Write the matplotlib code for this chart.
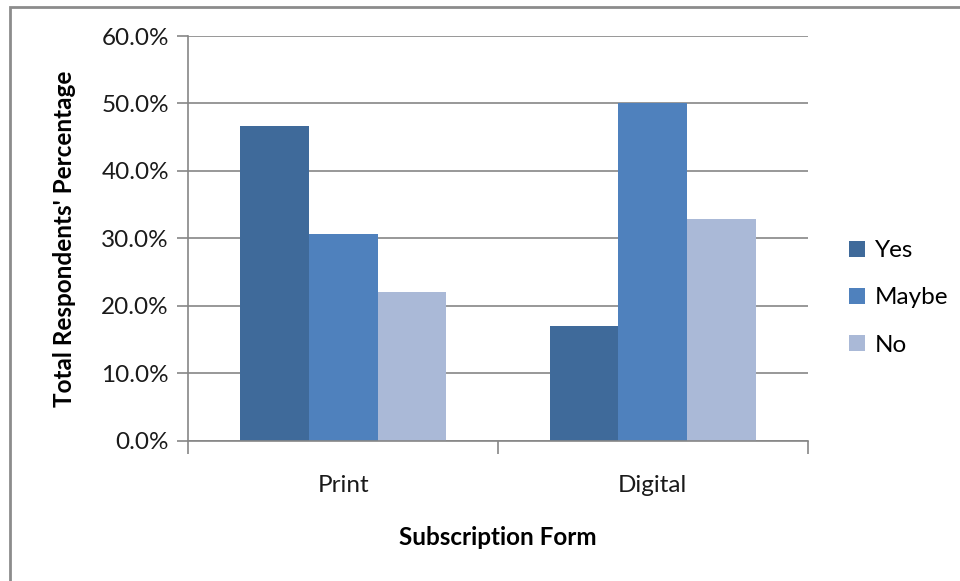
import numpy as np
import matplotlib.pyplot as plt
from matplotlib.patches import Rectangle
from matplotlib.ticker import PercentFormatter

# survey results, percentage of respondents per answer
forms = ['Print', 'Digital']
answers = ['Yes', 'Maybe', 'No']
yes = [46.7, 17.0]
maybe = [30.7, 50.0]
no = [22.1, 32.8]
yticks = [0, 10, 20, 30, 40, 50, 60]

colors = ['#3F6A9A', '#4F81BD', '#AAB9D7']

plt.rcParams['font.family'] = ['Lato', 'DejaVu Sans']
fs = 17.5

fig = plt.figure(figsize=(9.6, 5.81), dpi=100)
W, H = 960, 581
ax = fig.add_axes([188.3 / W, 1 - 440.7 / H, (807.7 - 188.3) / W, (440.7 - 36) / H])

# outer chart border
fig.patches.append(Rectangle((10 / W, -0.05), 1.1, 1 - 7 / H + 0.05,
                             transform=fig.transFigure, fill=False,
                             edgecolor='#8C8C8C', linewidth=2, zorder=0))

x = np.arange(len(forms))
bw = 1 / 4.5  # gap width 150%
for i, (vals, name) in enumerate(zip([yes, maybe, no], answers)):
    ax.bar(x + (i - 1) * bw, vals, width=bw, color=colors[i], label=name, zorder=3)

ax.set_xlim(-0.5, 1.5)
ax.set_ylim(0, 60)
ax.set_yticks(yticks)
ax.yaxis.set_major_formatter(PercentFormatter(decimals=1))
ax.set_xticks(x)
ax.set_xticklabels(forms)
ax.set_xticks([-0.5, 0.5, 1.5], minor=True)
ax.tick_params(axis='x', which='major', length=0, pad=24.5, labelsize=fs, colors='#1a1a1a')
ax.tick_params(axis='x', which='minor', length=9, width=1.2, color='#868686', direction='out')
ax.tick_params(axis='y', length=8, width=1.2, color='#868686', pad=6, labelsize=fs,
               labelcolor='#1a1a1a')

ax.grid(axis='y', color='#868686', linewidth=1.2, zorder=0)
for side in ['top', 'right']:
    ax.spines[side].set_visible(False)
for side in ['left', 'bottom']:
    ax.spines[side].set_color('#868686')
    ax.spines[side].set_linewidth(1.2)
ax.spines['bottom'].set_zorder(4)

ax.set_xlabel('Subscription Form', fontsize=fs, fontweight='bold', labelpad=22)
ax.set_ylabel("Total Respondents' Percentage", fontsize=fs, fontweight='bold', labelpad=18)

ax.legend(loc='center left', bbox_to_anchor=(849 / W, 1 - 298 / H),
          bbox_transform=fig.transFigure, frameon=False, fontsize=fs,
          borderpad=0, borderaxespad=0, handlelength=0.65, handleheight=0.65,
          handletextpad=0.4, labelspacing=1.07)

fig.savefig('out.png', dpi=100)
